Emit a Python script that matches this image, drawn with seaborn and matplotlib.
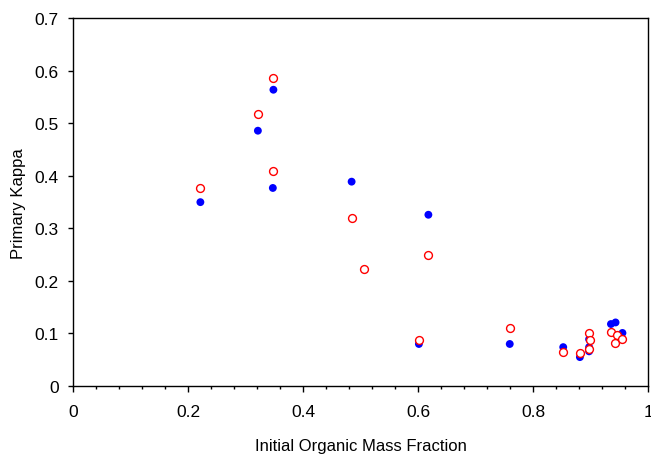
import numpy as np
import pandas as pd
import matplotlib
matplotlib.use('Agg')
import matplotlib.pyplot as plt
from matplotlib.ticker import MultipleLocator
import seaborn as sns

# ── データ ──────────────────────────────────────────
blue_x = [0.221, 0.321, 0.348, 0.347, 0.484, 0.6175, 0.601, 0.759,
          0.852, 0.881, 0.897, 0.897, 0.897, 0.935, 0.943, 0.955]
blue_y = [0.350, 0.486, 0.564, 0.377, 0.389, 0.326, 0.080, 0.080,
          0.074, 0.055, 0.089, 0.074, 0.066, 0.118, 0.121, 0.101]

red_x = [0.221, 0.321, 0.348, 0.347, 0.484, 0.506, 0.6175, 0.601, 0.759,
         0.852, 0.881, 0.896, 0.899, 0.897, 0.935, 0.945, 0.942, 0.955]
red_y = [0.377, 0.518, 0.587, 0.409, 0.320, 0.223, 0.249, 0.088, 0.111,
         0.064, 0.062, 0.101, 0.088, 0.070, 0.102, 0.098, 0.082, 0.089]

x_ticks = [0, 0.2, 0.4, 0.6, 0.8, 1.0]
x_labels = ['0', '0.2', '0.4', '0.6', '0.8', '1']
y_ticks = [0, 0.1, 0.2, 0.3, 0.4, 0.5, 0.6, 0.7]
y_labels = ['0', '0.1', '0.2', '0.3', '0.4', '0.5', '0.6', '0.7']

sns.set_style('white')
plt.rcParams['font.family'] = ['Liberation Sans', 'DejaVu Sans']
plt.rcParams['text.color'] = 'black'
plt.rcParams['axes.labelcolor'] = 'black'
plt.rcParams['xtick.color'] = 'black'
plt.rcParams['ytick.color'] = 'black'

fig = plt.figure(figsize=(6.51, 4.56), dpi=100)
ax = fig.add_axes([0.1126, 0.1513, 0.8833, 0.8064])

sns.scatterplot(x=blue_x, y=blue_y, ax=ax, color='#0000ff', s=32,
                edgecolor='none', zorder=3)
sns.scatterplot(x=red_x, y=red_y, ax=ax, facecolor='white', s=32,
                edgecolor='#ff0000', linewidth=1.0, zorder=4)

ax.set_xlim(0, 1)
ax.set_ylim(0, 0.7)
ax.set_xticks(x_ticks)
ax.set_xticklabels(x_labels)
ax.xaxis.set_minor_locator(MultipleLocator(0.04))
ax.set_yticks(y_ticks)
ax.set_yticklabels(y_labels)

ax.tick_params(axis='x', which='major', direction='out', length=4,
               width=1, labelsize=12.5, pad=9, bottom=True)
ax.tick_params(axis='x', which='minor', direction='out', length=2.3,
               width=1, bottom=True)
ax.tick_params(axis='y', which='major', direction='out', length=3.6,
               width=1, labelsize=12.5, pad=7, left=True)
for sp in ax.spines.values():
    sp.set_visible(True)
    sp.set_color('black')
    sp.set_linewidth(1)

ax.set_xlabel('Initial Organic Mass Fraction', fontsize=12, labelpad=13.5)
ax.set_ylabel('Primary Kappa', fontsize=12, labelpad=6)

fig.savefig('out.png', dpi=100)
